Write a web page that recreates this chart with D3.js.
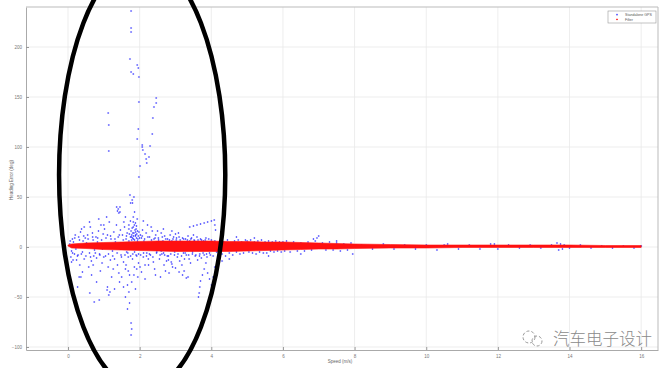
<!DOCTYPE html>
<html>
<head>
<meta charset="utf-8">
<script src="https://cdnjs.cloudflare.com/ajax/libs/d3/7.8.5/d3.min.js"></script>
<style>
  body { margin: 0; background: #fff; }
  text { font-family: "Liberation Sans", Arial, sans-serif; fill: #555; }
</style>
</head>
<body>
<script>
/* ---- data ---- */

// axis ticks
var speedTicks = [0, 2, 4, 6, 8, 10, 12, 14, 16];
var errorTicks = [-100, -50, 0, 50, 100, 150, 200];

// Standalone GPS points [speed (m/s), heading error (deg)]
var gpsOutliers = [
  [1.76,236],[1.76,219],[1.76,215],[1.73,188],[1.93,182],[1.96,179],[1.76,175],[1.82,173],
  [1.98,170],[1.98,145],[2.46,149],[2.46,144],[2.40,140],[2.37,129],[1.12,134],[1.14,122],
  [1.14,96],[1.96,118],[2.35,113],[1.93,108],[2.07,102],[2.07,100],[2.29,101],[2.09,97],
  [2.15,93],[2.26,90],[2.18,88],[2.20,84],[2.01,81],[1.98,70],
  [1.40,38],[1.42,34],[1.38,36],[1.45,40],[1.73,52],[1.79,47],[1.75,44],
  [1.76,-76],[1.78,-82],[1.76,-88],[0.14,-13],[0.36,-30],[0.27,-40],[0.61,-46],[0.73,-55],
  [0.87,-53],[1.09,-43],[1.17,-45],[1.50,-30],[1.55,-40],[1.60,-50],[1.72,-56],[1.66,-62]
];

var gpsLowSpeed = [
  [0.05,3],[0.10,-4],[0.12,8],[0.18,-7],[0.20,12],[0.22,-2],[0.15,5],[0.08,-10],[0.24,-13],[0.10,-15],
  [0.30,10],[0.28,-8],[0.35,15],[0.40,-5],[0.42,6],[0.45,-12],[0.38,18],[0.33,-18],[0.48,9],[0.27,2],[0.40,-25],[0.31,-30],
  [0.55,12],[0.60,-6],[0.62,20],[0.65,-14],[0.70,7],[0.58,-20],[0.68,14],[0.72,-9],[0.52,4],[0.74,-3],[0.60,25],[0.66,-28],
  [0.78,10],[0.80,-11],[0.85,16],[0.88,-7],[0.92,22],[0.95,-16],[0.82,5],[0.98,13],[0.90,-24],[0.86,28],[0.96,-2],[0.80,-35],
  [1.02,18],[1.05,-9],[1.10,12],[1.12,-20],[1.15,25],[1.18,-13],[1.20,8],[1.22,-30],[1.08,30],[1.24,-4],[1.10,-40],[1.14,-48],
  [1.28,15],[1.30,-12],[1.35,22],[1.38,-18],[1.40,10],[1.42,-26],[1.45,35],[1.48,-8],[1.32,5],[1.44,-35],[1.36,40],[1.46,17],[1.30,-42],
  [1.52,12],[1.55,-15],[1.58,20],[1.60,-22],[1.62,8],[1.65,14],[1.68,-10],[1.70,18],[1.72,-28],[1.74,10],[1.56,25],[1.66,-38],[1.60,30],[1.70,6],[1.64,-5],[1.70,-45],
  [1.76,16],[1.78,12],[1.80,9],[1.82,20],[1.84,14],[1.86,7],[1.88,11],[1.90,18],[1.92,13],[1.95,8],[1.98,15],[1.80,-12],
  [1.85,-20],[1.90,-8],[1.95,-30],[1.78,-35],[1.88,-42],[1.82,25],[1.93,28],[1.86,35],[1.80,44],[1.84,50],[1.97,-16],
  [1.77,10],[1.81,14],[1.83,8],[1.87,17],[1.89,12],[1.91,9],[1.94,16],[1.79,19],[1.85,22],[1.96,11],
  [2.02,12],[2.05,9],[2.08,17],[2.10,-10],[2.12,6],[2.15,-18],[2.18,14],[2.20,-6],[2.22,22],[2.05,-25],[2.15,-32],[2.10,26],[2.24,-12],
  [2.28,10],[2.30,-8],[2.35,16],[2.38,-15],[2.40,8],[2.42,-22],[2.45,12],[2.48,-5],[2.32,20],[2.44,-28],
  [2.52,9],[2.55,-12],[2.60,14],[2.62,-7],[2.65,6],[2.68,-18],[2.70,11],[2.72,-24],[2.58,-30],[2.66,18],
  [2.78,8],[2.80,-9],[2.85,12],[2.88,-15],[2.90,6],[2.92,-20],[2.95,10],[2.98,-5],[2.82,-26],[2.90,16],
  [3.02,7],[3.05,-10],[3.10,10],[3.12,-14],[3.15,5],[3.18,-18],[3.20,9],[3.22,-6],[3.08,14],[3.24,-24],
  [3.28,8],[3.30,-8],[3.35,11],[3.38,-12],[3.40,6],[3.42,-16],[3.45,9],[3.48,-5],
  [3.52,7],[3.55,-9],[3.60,10],[3.62,-13],[3.65,5],[3.68,-7],[3.70,8],[3.72,-11],
  [3.78,6],[3.80,-8],[3.85,9],[3.88,-10],[3.90,5],[3.95,-6],[4.00,7],[4.05,-9],[4.10,6],[4.15,-5],
  // dotted traces
  [3.40,20],[3.50,21],[3.60,22],[3.70,23],[3.80,24],[3.90,25],[4.00,26],[4.08,27],[4.10,22],[4.12,17],
  [2.60,-4],[2.70,-8],[2.80,-13],[2.90,-17],[3.00,-21],[3.10,-25],[3.20,-28],[3.30,-31],[3.35,-30],
  [3.85,-16],[3.80,-22],[3.75,-28],[3.70,-34],[3.68,-40],[3.66,-46],[3.64,-50],[3.90,-26],[3.95,-32],[4.00,-38],[4.05,-30],[4.10,-20]
];

// dense cloud hugging the band below 4 m/s
var gpsCore = [
  [0.06,6],[0.13,-6],[0.19,9],[0.26,-9],[0.32,7],[0.37,-7],[0.44,11],[0.50,-9],[0.56,8],[0.63,-10],
  [0.69,10],[0.76,-6],[0.83,9],[0.89,-8],[0.94,7],[1.00,-10],[1.06,9],[1.13,-7],[1.19,11],[1.25,-9],
  [1.31,8],[1.37,-6],[1.43,12],[1.49,-10],[1.54,7],[1.59,-8],[1.63,11],[1.67,-6],[1.71,13],[1.75,-9],
  [1.78,7],[1.81,-7],[1.83,11],[1.86,-5],[1.89,15],[1.92,-9],[1.94,6],[1.97,-7],[2.00,9],[2.03,-8],
  [2.07,11],[2.11,-6],[2.14,8],[2.19,-9],[2.23,10],[2.27,-7],[2.33,7],[2.37,-10],[2.43,9],[2.47,-6],
  [2.53,7],[2.57,-8],[2.63,10],[2.67,-6],[2.73,8],[2.77,-9],[2.83,7],[2.87,-7],[2.93,8],[2.97,-8],
  [3.03,9],[3.07,-7],[3.13,7],[3.17,-9],[3.23,8],[3.27,-6],[3.33,7],[3.37,-8],[3.43,8],[3.47,-7],
  [3.53,6],[3.57,-8],[3.63,7],[3.67,-9],[3.73,7],[3.77,-6],[3.83,7],[3.87,-7],[3.93,8],[3.97,-8],
  [1.70,22],[1.74,26],[1.82,30],[1.88,24],[1.91,21],[1.62,-18],[1.68,-24],[1.84,-28],[1.92,-22],[2.01,-20],
  [0.45,20],[0.70,-18],[1.00,22],[1.26,-22],[2.25,-18],[2.50,16],[2.75,-14],[3.00,13],[3.25,-12],[3.50,12]
];

var gpsHighSpeed = [
  [4.25,6],[4.30,-7],[4.35,5],[4.40,-9],[4.45,7],[4.50,-6],[4.55,4],[4.60,-8],[4.65,6],[4.70,-5],[4.75,7],[4.80,-7],
  [4.85,5],[4.90,-6],[4.95,7],[4.30,-14],[4.50,-12],[4.70,10],
  [5.00,6],[5.05,-5],[5.10,7],[5.15,-6],[5.20,5],[5.25,-7],[5.30,6],[5.35,-5],[5.40,7],[5.45,-6],[5.50,5],[5.55,-6],
  [5.60,6],[5.65,-4],[5.70,5],[5.75,-5],[5.80,6],[5.85,-4],[5.90,5],[5.95,-5],[5.20,9],[5.60,-9],
  [6.00,5],[6.05,-4],[6.10,6],[6.20,-5],[6.30,5],[6.40,-4],[6.50,4],[6.60,-4],[6.70,5],[6.80,-3],[6.90,6],[6.95,9],[7.00,11],[6.85,8],[6.50,-7],
  [7.10,4],[7.20,-3],[7.30,5],[7.40,-3],[7.50,4],[7.60,-4],[7.70,3],[7.80,-3],[7.90,4],[7.50,6],[7.95,-7],
  [8.20,2],[8.50,-2],[8.80,3],[9.10,-2],[9.40,2],[9.70,-2],[10.00,2],[10.30,-3],[10.50,2],[10.60,3],[10.90,-2],
  [11.20,2],[11.50,-2],[11.80,3],[11.90,3],[12.00,-2],
  [12.30,2],[12.60,-1],[12.90,2],[13.20,-1],[13.50,2],[13.65,4],[13.70,-3],[13.75,3],[13.80,-2],[13.85,2],
  [14.00,-1],[14.30,2],[14.60,-1],[14.90,1],[15.20,-1],[15.50,1],[15.80,-1],[16.00,1]
];

// Filter output: spread of the red band at each speed
var filterSpeed = [0, 0.1, 0.5, 1, 1.5, 2, 2.5, 3, 3.5, 4, 4.5, 5, 5.5, 6, 6.5, 7, 7.5, 8, 9, 10, 11, 12, 13, 14, 15, 16];
var filterHigh  = [2, 3, 4, 4.5, 5, 5.5, 6, 6, 6, 6, 5.5, 5.5, 5, 5, 4.5, 4, 3.5, 3, 2.5, 2, 2, 2, 2, 2, 1.5, 1.5];
var filterLow   = [1, -1, -1.5, -2.5, -3, -3.5, -4, -4.5, -4.5, -4.5, -4.5, -4, -3.5, -3, -2.5, -2, -2, -1.5, -1, -1, -0.5, -0.5, -0.5, -0.5, -0.5, -0.5];

// hand drawn highlight ellipse, in data units
var highlight = {speed: 2.07, error: 72, speedRadius: 2.32, errorRadius: 215};

/* ---- setup ---- */
var width = 671, height = 368;

var svg = d3.select("body").append("svg")
  .attr("width", width).attr("height", height);

var x = d3.scaleLinear().domain([-1.173, 16.47]).range([26, 658]);
var y = d3.scaleLinear().domain([-103, 240]).range([350, 7]);

//grid
svg.append("g").selectAll("line").data(speedTicks).join("line")
  .attr("x1", d => x(d)).attr("x2", d => x(d))
  .attr("y1", y.range()[1]).attr("y2", y.range()[0])
  .attr("stroke", "#e8e8e8").attr("stroke-width", 0.8);
svg.append("g").selectAll("line").data(errorTicks).join("line")
  .attr("x1", x.range()[0]).attr("x2", x.range()[1])
  .attr("y1", d => y(d)).attr("y2", d => y(d))
  .attr("stroke", "#e8e8e8").attr("stroke-width", 0.8);

//axes (MATLAB style, ticks inward, box)
var xAxis = svg.append("g").attr("transform", "translate(0," + y.range()[0] + ")")
  .call(d3.axisBottom(x).tickValues(speedTicks).tickSizeInner(-3).tickSizeOuter(0).tickPadding(5));
var yAxis = svg.append("g").attr("transform", "translate(" + x.range()[0] + ",0)")
  .call(d3.axisLeft(y).tickValues(errorTicks).tickSizeInner(-3).tickSizeOuter(0).tickPadding(4));
[xAxis, yAxis].forEach(function(g){
  g.select(".domain").attr("stroke", "#aaa");
  g.selectAll(".tick line").attr("stroke", "#999");
  g.selectAll(".tick text").attr("font-size", "4.5px").style("fill", "#777")
    .style("font-family", "Liberation Sans, Arial, sans-serif");
});
svg.append("line").attr("x1", x.range()[0]).attr("x2", x.range()[1])
  .attr("y1", y.range()[1]).attr("y2", y.range()[1]).attr("stroke", "#bbb");
svg.append("line").attr("x1", x.range()[1]).attr("x2", x.range()[1])
  .attr("y1", y.range()[1]).attr("y2", y.range()[0]).attr("stroke", "#bbb");

//axis titles
svg.append("text").attr("x", 340).attr("y", 363)
  .attr("text-anchor", "middle").attr("font-size", "4.5px").style("fill", "#666").text("Speed (m/s)");
svg.append("text").attr("transform", "translate(13,180) rotate(-90)")
  .attr("text-anchor", "middle").attr("font-size", "4.5px").style("fill", "#666").text("Heading Error (deg)");

//Standalone GPS points
var gps = gpsOutliers.concat(gpsLowSpeed, gpsCore, gpsHighSpeed);
var cross = d3.symbol().type(d3.symbolCross).size(2.4);
svg.append("g").selectAll("path").data(gps).join("path")
  .attr("transform", d => "translate(" + x(d[0]) + "," + y(d[1]) + ")")
  .attr("d", cross)
  .attr("fill", "#1c1cff").attr("opacity", 0.85);

//Filter band
var band = d3.area()
  .x((d, i) => x(filterSpeed[i]))
  .y0((d, i) => y(filterLow[i]))
  .y1((d, i) => y(filterHigh[i]));
svg.append("path").datum(filterSpeed)
  .attr("d", band)
  .attr("fill", "#ff1010").attr("stroke", "#ff1010").attr("stroke-width", 0.6);

//legend
var lg = svg.append("g").attr("transform", "translate(608,11)");
lg.append("rect").attr("width", 48).attr("height", 12)
  .attr("fill", "#fff").attr("stroke", "#999").attr("stroke-width", 0.6);
var legendItems = [["Standalone GPS", "#1c1cff"], ["Filter", "#ff1010"]];
legendItems.forEach(function(item, i){
  lg.append("path").attr("transform", "translate(9," + (3.8 + i * 4.6) + ")")
    .attr("d", d3.symbol().type(d3.symbolCross).size(2)).attr("fill", item[1]);
  lg.append("text").attr("x", 17).attr("y", 5 + i * 4.6)
    .attr("font-size", "3.6px").style("fill", "#555").text(item[0]);
});

//highlight ellipse
svg.append("ellipse")
  .attr("cx", x(highlight.speed)).attr("cy", y(highlight.error))
  .attr("rx", x(highlight.speed + highlight.speedRadius) - x(highlight.speed))
  .attr("ry", y(highlight.error - highlight.errorRadius) - y(highlight.error))
  .attr("fill", "none").attr("stroke", "#000").attr("stroke-width", 4.5);

//watermark
var wm = svg.append("g").attr("transform", "translate(533,339)");
wm.append("circle").attr("cx", -4).attr("cy", -2).attr("r", 6)
  .attr("fill", "none").attr("stroke", "#999").attr("stroke-width", 1).attr("stroke-dasharray", "3,2");
wm.append("circle").attr("cx", 4).attr("cy", 2).attr("r", 5)
  .attr("fill", "none").attr("stroke", "#999").attr("stroke-width", 1).attr("stroke-dasharray", "3,2");
svg.append("text").attr("x", 553).attr("y", 345)
  .attr("font-size", "16.5px").style("font-family", "Noto Sans CJK SC, sans-serif")
  .style("fill", "#8a8a8a").style("font-weight", 300).text("汽车电子设计");
</script>
</body>
</html>
